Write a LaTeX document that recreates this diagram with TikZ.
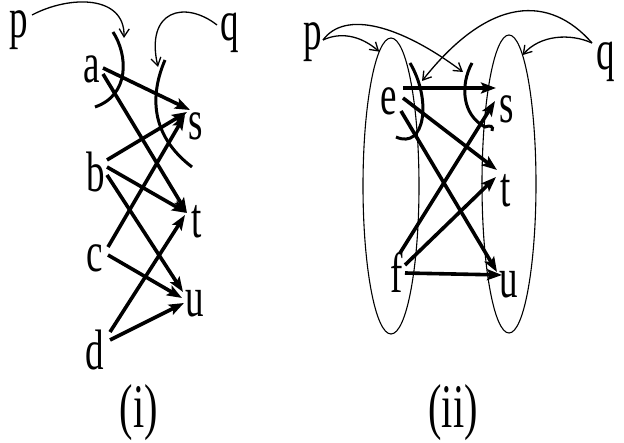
\documentclass[tikz,border=0pt]{standalone}
\usepackage{fontspec}
\setmainfont{LiberationSerif}[Extension=.ttf,UprightFont=*-Regular]
\newcommand\nt[1]{\scalebox{0.65}[1]{#1}}
\usetikzlibrary{arrows.meta,calc,shapes.geometric}
\tikzset{
 lab/.style={anchor=base, inner sep=0pt, font=\rmfamily\fontsize{57}{60}\selectfont},
 caplab/.style={anchor=base, inner sep=0pt, font=\rmfamily\fontsize{62}{66}\selectfont},
 thk/.style={line width=3.6pt, -{Stealth[length=15pt,width=11pt,inset=3pt]}},
 arcline/.style={line width=3pt},
 thinarr/.style={line width=1.3pt, -{Straight Barb[length=8pt,width=10pt]}},
 oval/.style={ellipse, draw, line width=1.1pt, inner sep=0pt, outer sep=0pt},
}
\begin{document}
\begin{tikzpicture}[x=1pt,y=-1pt]
\useasboundingbox (0,0) rectangle (624,443);
% ---------- (i) ----------
\node[lab] (p1) at (19,38) {\nt{p}};
\node[lab] (q1) at (230,41) {\nt{q}};
\node[lab] (a) at (92,83) {\nt{a}};
\node[lab] (s1) at (196,140) {\nt{s}};
\node[lab] (b) at (96,192) {\nt{b}};
\node[lab] (t1) at (197,238) {\nt{t}};
\node[lab] (c) at (95,272) {\nt{c}};
\node[lab] (u1) at (195,317) {\nt{u}};
\node[lab] (d) at (95,370) {\nt{d}};
\node[caplab] (lab1) at (139,428) {\nt{(i)}};
\coordinate (pa1) at (124,38);
\coordinate (qa1) at (158,67);
% arcs
\draw[arcline] (113,32) .. controls (128,55) and (130,95) .. (95,107);
\draw[arcline] (165,60) .. controls (150,95) and (150,135) .. (192,167);
\draw[thinarr] ($(p1.base)+(13,-23)$) .. controls (70,-5) and (125,-5) .. (pa1);
\draw[thinarr] ($(q1.base)+(-13,-16)$) .. controls (185,0) and (145,10) .. (qa1);
% edges
\draw[thk] ($(a.base)+(11,-15)$) -- ($(s1.base)+(-6,-30)$);
\draw[thk] ($(a.base)+(11,-9)$) -- ($(t1.base)+(-10,-25)$);
\draw[thk] ($(b.base)+(11,-32)$) -- ($(s1.base)+(-9,-28)$);
\draw[thk] ($(b.base)+(11,-25)$) -- ($(t1.base)+(-10,-25)$);
\draw[thk] ($(b.base)+(11,-17)$) -- ($(u1.base)+(-12,-25)$);
\draw[thk] ($(c.base)+(13,-25)$) -- ($(s1.base)+(-11,-25)$);
\draw[thk] ($(c.base)+(13,-17)$) -- ($(u1.base)+(-13,-19)$);
\draw[thk] ($(d.base)+(15,-38)$) -- ($(t1.base)+(-12,-23)$);
\draw[thk] ($(d.base)+(15,-30)$) -- ($(u1.base)+(-11,-14)$);
% ---------- (ii) ----------
\node[oval, minimum width=56pt, minimum height=296pt] (L) at (391,186) {};
\node[oval, minimum width=54pt, minimum height=298pt] (R) at (509,184) {};
\node[lab] (p2) at (313,50) {\nt{p}};
\node[lab] (q2) at (606,70) {\nt{q}};
\node[lab] (e) at (389,115) {\nt{e}};
\node[lab] (s2) at (507,123) {\nt{s}};
\node[lab] (t2) at (506,207) {\nt{t}};
\node[lab] (f) at (397,293) {\nt{f}};
\node[lab] (u2) at (509,298) {\nt{u}};
\node[caplab] (lab2) at (453,428) {\nt{(ii)}};
\coordinate (ea) at (422,81);
\coordinate (sa) at (463,72);
% arcs
\draw[arcline] (410,63) .. controls (432,100) and (425,150) .. (396,137);
\draw[arcline] (472,63) .. controls (460,85) and (462,115) .. (485,127)
   .. controls (490,125) and (494,126) .. (492,131);
\draw[thinarr] ($(p2.base)+(10,-10)$) .. controls (340,32) and (360,35) .. (L.95);
\draw[thinarr] ($(p2.base)+(10,-10)$) .. controls (345,10) and (400,25) .. (sa);
\draw[thinarr] ($(q2.base)+(-14,-27)$) .. controls (570,33) and (540,35) .. (R.84);
\draw[thinarr] ($(q2.base)+(-14,-27)$) .. controls (550,-5) and (490,-5) .. (ea);
% edges
\draw[thk] ($(e.base)+(14,-27)$) -- ($(s2.base)+(-11,-35)$);
\draw[thk] ($(e.base)+(14,-17)$) -- ($(t2.base)+(-9,-37)$);
\draw[thk] ($(e.base)+(12,-4)$) -- ($(u2.base)+(-12,-26)$);
\draw[thk] ($(f.base)+(3,-40)$) -- ($(s2.base)+(-12,-22)$);
\draw[thk] ($(f.base)+(8,-28)$) -- ($(t2.base)+(-10,-30)$);
\draw[thk] ($(f.base)+(8,-20)$) -- ($(u2.base)+(-7,-23)$);
\end{tikzpicture}
\end{document}
